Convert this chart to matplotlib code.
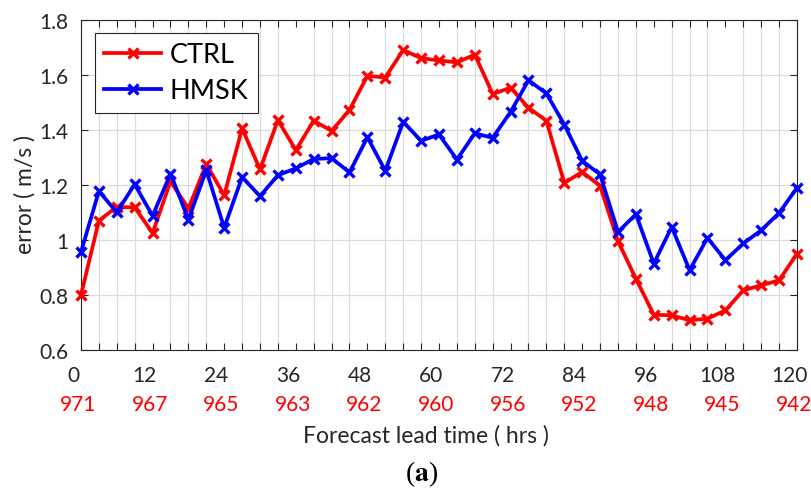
import numpy as np
import matplotlib
matplotlib.use("Agg")
import matplotlib.pyplot as plt
from matplotlib.transforms import ScaledTranslation, blended_transform_factory
from matplotlib.ticker import MultipleLocator

# ---------------- data ----------------
lead_hours = list(range(0, 121, 3))
ctrl = [0.80, 1.07, 1.12, 1.118, 1.025, 1.213, 1.114, 1.275, 1.162, 1.405,
        1.256, 1.435, 1.326, 1.433, 1.396, 1.472, 1.596, 1.590, 1.690, 1.660,
        1.652, 1.645, 1.673, 1.530, 1.553, 1.480, 1.433, 1.207, 1.247, 1.196,
        0.995, 0.859, 0.728, 0.726, 0.708, 0.714, 0.744, 0.817, 0.835, 0.853,
        0.950]
hmsk = [0.956, 1.177, 1.100, 1.202, 1.087, 1.241, 1.074, 1.253, 1.044, 1.228,
        1.159, 1.235, 1.260, 1.294, 1.297, 1.245, 1.373, 1.251, 1.429, 1.360,
        1.383, 1.292, 1.387, 1.371, 1.465, 1.580, 1.532, 1.419, 1.287, 1.238,
        1.029, 1.093, 0.914, 1.047, 0.890, 1.007, 0.926, 0.987, 1.035, 1.098,
        1.189]
tick_hours = [0, 12, 24, 36, 48, 60, 72, 84, 96, 108, 120]
pressure_labels = ["971", "967", "965", "963", "962", "960", "956", "952",
                   "948", "945", "942"]
series_names = ["CTRL", "HMSK"]

# ---------------- figure ----------------
W, H, DPI = 812, 489, 100
plt.rcParams['font.family'] = ['Lato', 'DejaVu Sans']
fig = plt.figure(figsize=(W / DPI, H / DPI), dpi=DPI)
L, R, T, B = 81, 797, 20.7, 351
ax = fig.add_axes([L / W, 1 - B / H, (R - L) / W, (B - T) / H])

ax.plot(lead_hours, ctrl, color='#ff0000', lw=2.7, marker='x', ms=7,
        mew=2.4, label=series_names[0], zorder=3, clip_on=False)
ax.plot(lead_hours, hmsk, color='#0000ff', lw=2.7, marker='x', ms=7,
        mew=2.4, label=series_names[1], zorder=3, clip_on=False)

TICK_FS = 15
ax.set_xlim(0, 120)
ax.set_ylim(0.6, 1.8)
ax.xaxis.set_major_locator(MultipleLocator(12))
ax.xaxis.set_minor_locator(MultipleLocator(3))
ax.yaxis.set_major_locator(MultipleLocator(0.2))
ax.set_xticklabels([])
ax.tick_params(axis='x', which='both', direction='in', top=True, bottom=True,
               length=5, width=0.8, color='#262626', labelbottom=False)
ax.tick_params(axis='y', which='both', direction='in', left=True, right=True,
               length=5, width=0.8, color='#262626', labelsize=TICK_FS,
               labelcolor='#262626', pad=9)
ax.yaxis.set_major_formatter(matplotlib.ticker.FuncFormatter(
    lambda v, p: ('%g' % round(v, 1))))
ax.grid(True, axis='x', which='minor', color='#dcdcdc', lw=0.9)
ax.grid(True, axis='y', which='major', color='#dcdcdc', lw=0.9)
ax.set_axisbelow(True)
for s in ax.spines.values():
    s.set_color('#262626')
    s.set_linewidth(0.8)

# x tick label rows
trans = blended_transform_factory(ax.transData, ax.transAxes)
for h, p in zip(tick_hours, pressure_labels):
    ax.text(h, 0, str(h), transform=trans + ScaledTranslation(-8 / DPI, -25 / DPI, fig.dpi_scale_trans),
            ha='center', va='center', fontsize=TICK_FS, color='#262626')
    ax.text(h, 0, p, transform=trans + ScaledTranslation(-3 / DPI, -54 / DPI, fig.dpi_scale_trans),
            ha='center', va='center', fontsize=TICK_FS, color='#ff0000')

fig.text(425.5 / W, 1 - 436 / H, "Forecast lead time ( hrs )", ha='center',
         va='center', fontsize=16.5, color='#262626')
fig.text(25 / W, 1 - 195 / H, "error ( m/s )", ha='center', va='center',
         rotation=90, fontsize=16.5, color='#262626')
fig.text(422 / W, 1 - 474 / H, r"($\mathbf{a}$)", ha='center', va='center',
         fontsize=20, family='Liberation Serif', color='black',
         math_fontfamily='stix')

leg = ax.legend(loc='upper left', bbox_to_anchor=((95 - L) / (R - L), 1 - (34 - T) / (B - T)),
                borderaxespad=0, fontsize=19.5, fancybox=False, framealpha=1,
                edgecolor='#262626', handlelength=2.1, handletextpad=0.3,
                labelspacing=0.4, borderpad=0.35)
leg.get_frame().set_linewidth(0.8)

fig.savefig("out.png", dpi=DPI)
